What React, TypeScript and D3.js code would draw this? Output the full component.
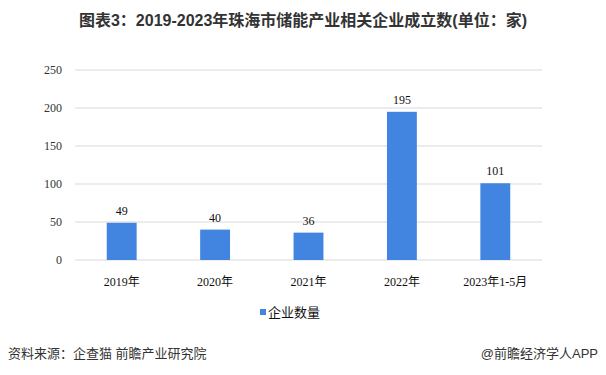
import React from "react";
import * as d3 from "d3";

const categories = ["2019年", "2020年", "2021年", "2022年", "2023年1-5月"];
const values = [49, 40, 36, 195, 101];
const yTicks = [0, 50, 100, 150, 200, 250];
const seriesName = "企业数量";
const title = "图表3：2019-2023年珠海市储能产业相关企业成立数(单位：家)";
const source = "资料来源：企查猫 前瞻产业研究院";
const credit = "@前瞻经济学人APP";

const W = 606, H = 375;
const m = { left: 75, right: 64, top: 70, bottom: 115 };
const BAR = "#4285e0";
const serif = "'Liberation Serif', 'Times New Roman', 'Noto Sans CJK SC', serif";
const sans = "'Liberation Sans', Arial, 'Noto Sans CJK SC', sans-serif";

export default function App() {
  const x = d3.scaleBand<string>().domain(categories).range([m.left, W - m.right]).paddingInner(0.68).paddingOuter(0.34);
  const y = d3.scaleLinear().domain([0, 250]).range([H - m.bottom, m.top]);
  return (
    <svg width={W} height={H} style={{ position: "absolute", left: 0, top: 0, background: "#fff" }}>
      <text x={303} y={26} textAnchor="middle" fontFamily={sans} fontWeight="bold" fontSize={16} fill="#333">{title}</text>
      {yTicks.map(t => (
        <g key={t}>
          <line x1={m.left} x2={W - m.right} y1={y(t)} y2={y(t)} stroke="#d9d9d9" strokeWidth={1} />
          <text x={62} y={y(t)} dy="0.35em" textAnchor="end" fontFamily={serif} fontSize={12} fill="#333">{t}</text>
        </g>
      ))}
      {categories.map((c, i) => (
        <g key={c}>
          <rect x={x(c)} y={y(values[i])} width={x.bandwidth()} height={y(0) - y(values[i])} fill={BAR} />
          <text x={x(c)! + x.bandwidth() / 2} y={y(values[i]) - 8} textAnchor="middle" fontFamily={serif} fontSize={12} fill="#111">{values[i]}</text>
          <text x={x(c)! + x.bandwidth() / 2} y={y(0) + 26} textAnchor="middle" fontFamily={serif} fontSize={12} fill="#111">{c}</text>
        </g>
      ))}
      <rect x={260} y={309} width={6} height={6} fill={BAR} />
      <text x={268} y={317} fontFamily={sans} fontSize={13} fill="#111">{seriesName}</text>
      <text x={8} y={358} fontFamily={sans} fontSize={13} fill="#333">{source}</text>
      <text x={598} y={358} textAnchor="end" fontFamily={sans} fontSize={13} fill="#333">{credit}</text>
    </svg>
  );
}
